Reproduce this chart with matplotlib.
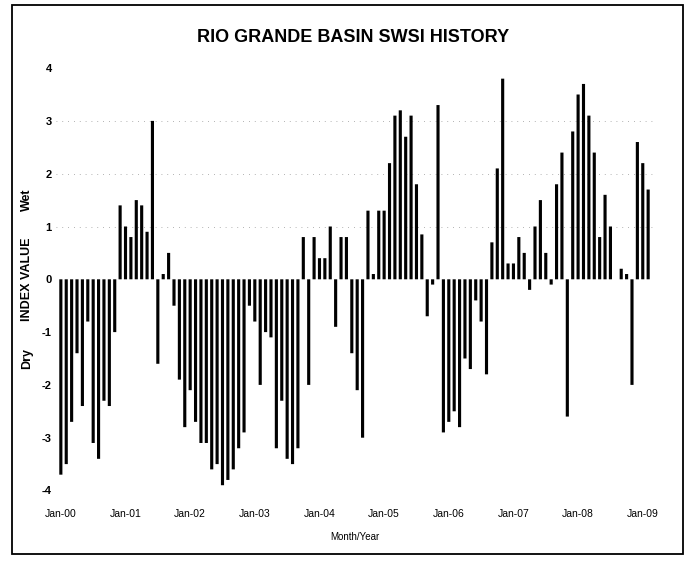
import matplotlib
matplotlib.use("Agg")
import matplotlib.pyplot as plt
from matplotlib.patches import Rectangle

# Monthly SWSI values (Jan..Dec) per year
swsi_2000 = [-3.7, -3.5, -2.7, -1.4, -2.4, -0.8, -3.1, -3.4, -2.3, -2.4, -1.0, 1.4]
swsi_2001 = [1.0, 0.8, 1.5, 1.4, 0.9, 3.0, -1.6, 0.1, 0.5, -0.5, -1.9, -2.8]
swsi_2002 = [-2.1, -2.7, -3.1, -3.1, -3.6, -3.5, -3.9, -3.8, -3.6, -3.2, -2.9, -0.5]
swsi_2003 = [-0.8, -2.0, -1.0, -1.1, -3.2, -2.3, -3.4, -3.5, -3.2, 0.8, -2.0, 0.8]
swsi_2004 = [0.4, 0.4, 1.0, -0.9, 0.8, 0.8, -1.4, -2.1, -3.0, 1.3, 0.1, 1.3]
swsi_2005 = [1.3, 2.2, 3.1, 3.2, 2.7, 3.1, 1.8, 0.85, -0.7, -0.1, 3.3, -2.9]
swsi_2006 = [-2.7, -2.5, -2.8, -1.5, -1.7, -0.4, -0.8, -1.8, 0.7, 2.1, 3.8, 0.3]
swsi_2007 = [0.3, 0.8, 0.5, -0.2, 1.0, 1.5, 0.5, -0.1, 1.8, 2.4, -2.6, 2.8]
swsi_2008 = [3.5, 3.7, 3.1, 2.4, 0.8, 1.6, 1.0, 0.0, 0.2, 0.1, -2.0, 2.6]
swsi_2009 = [2.2, 1.7]

tick_labels = ["Jan-00", "Jan-01", "Jan-02", "Jan-03", "Jan-04",
               "Jan-05", "Jan-06", "Jan-07", "Jan-08", "Jan-09"]
y_ticks = [-4, -3, -2, -1, 0, 1, 2, 3, 4]

values = (swsi_2000 + swsi_2001 + swsi_2002 + swsi_2003 + swsi_2004 +
          swsi_2005 + swsi_2006 + swsi_2007 + swsi_2008 + swsi_2009)
months = list(range(len(values)))
tick_pos = [12 * i for i in range(len(tick_labels))]

plt.rcParams['font.family'] = ['Liberation Sans', 'DejaVu Sans']

fig = plt.figure(figsize=(6.89, 5.63), dpi=100)
ax = fig.add_axes([56 / 689, 1 - 490.5 / 563, (653 - 56) / 689, (490.5 - 68.1) / 563])

bars = ax.bar(months, values, width=0.58, color='black', linewidth=0, zorder=3)
for b in bars:
    b.set_snap(False)

ax.set_xlim(-0.9, 109.9)
ax.set_ylim(-4, 4)
ax.set_yticks(y_ticks)
ax.set_yticklabels([str(v) for v in y_ticks], fontsize=8, fontweight='bold')
ax.set_xticks(tick_pos)
ax.set_xticklabels(tick_labels, fontsize=7.5)
ax.tick_params(axis='y', length=0, pad=3)
ax.tick_params(axis='x', length=0, pad=13)

for sp in ax.spines.values():
    sp.set_visible(False)

for g in [1, 2, 3]:
    ax.axhline(g, color='#999999', lw=0.6, ls=(0, (1, 6)), zorder=1)

ax.set_xlabel("Month/Year", fontsize=7, labelpad=10)

# y-axis label parts
ax.text(-0.048, 1.5, "Wet", transform=ax.get_yaxis_transform(), rotation=90,
        ha='center', va='center', fontsize=9, fontweight='bold')
ax.text(-0.048, 0.0, "INDEX VALUE", transform=ax.get_yaxis_transform(), rotation=90,
        ha='center', va='center', fontsize=9, fontweight='bold')
ax.text(-0.048, -1.5, "Dry", transform=ax.get_yaxis_transform(), rotation=90,
        ha='center', va='center', fontsize=9, fontweight='bold')

fig.text(353 / 689, 1 - 37 / 563, "RIO GRANDE BASIN SWSI HISTORY",
         ha='center', va='center', fontsize=13, fontweight='bold')

# outer frame
fig.patches.append(Rectangle((12 / 689, 1 - 554 / 563), (683 - 12) / 689, (554 - 5) / 563,
                             transform=fig.transFigure, fill=False, ec='black', lw=1.3))

fig.savefig("out.png", dpi=100)
